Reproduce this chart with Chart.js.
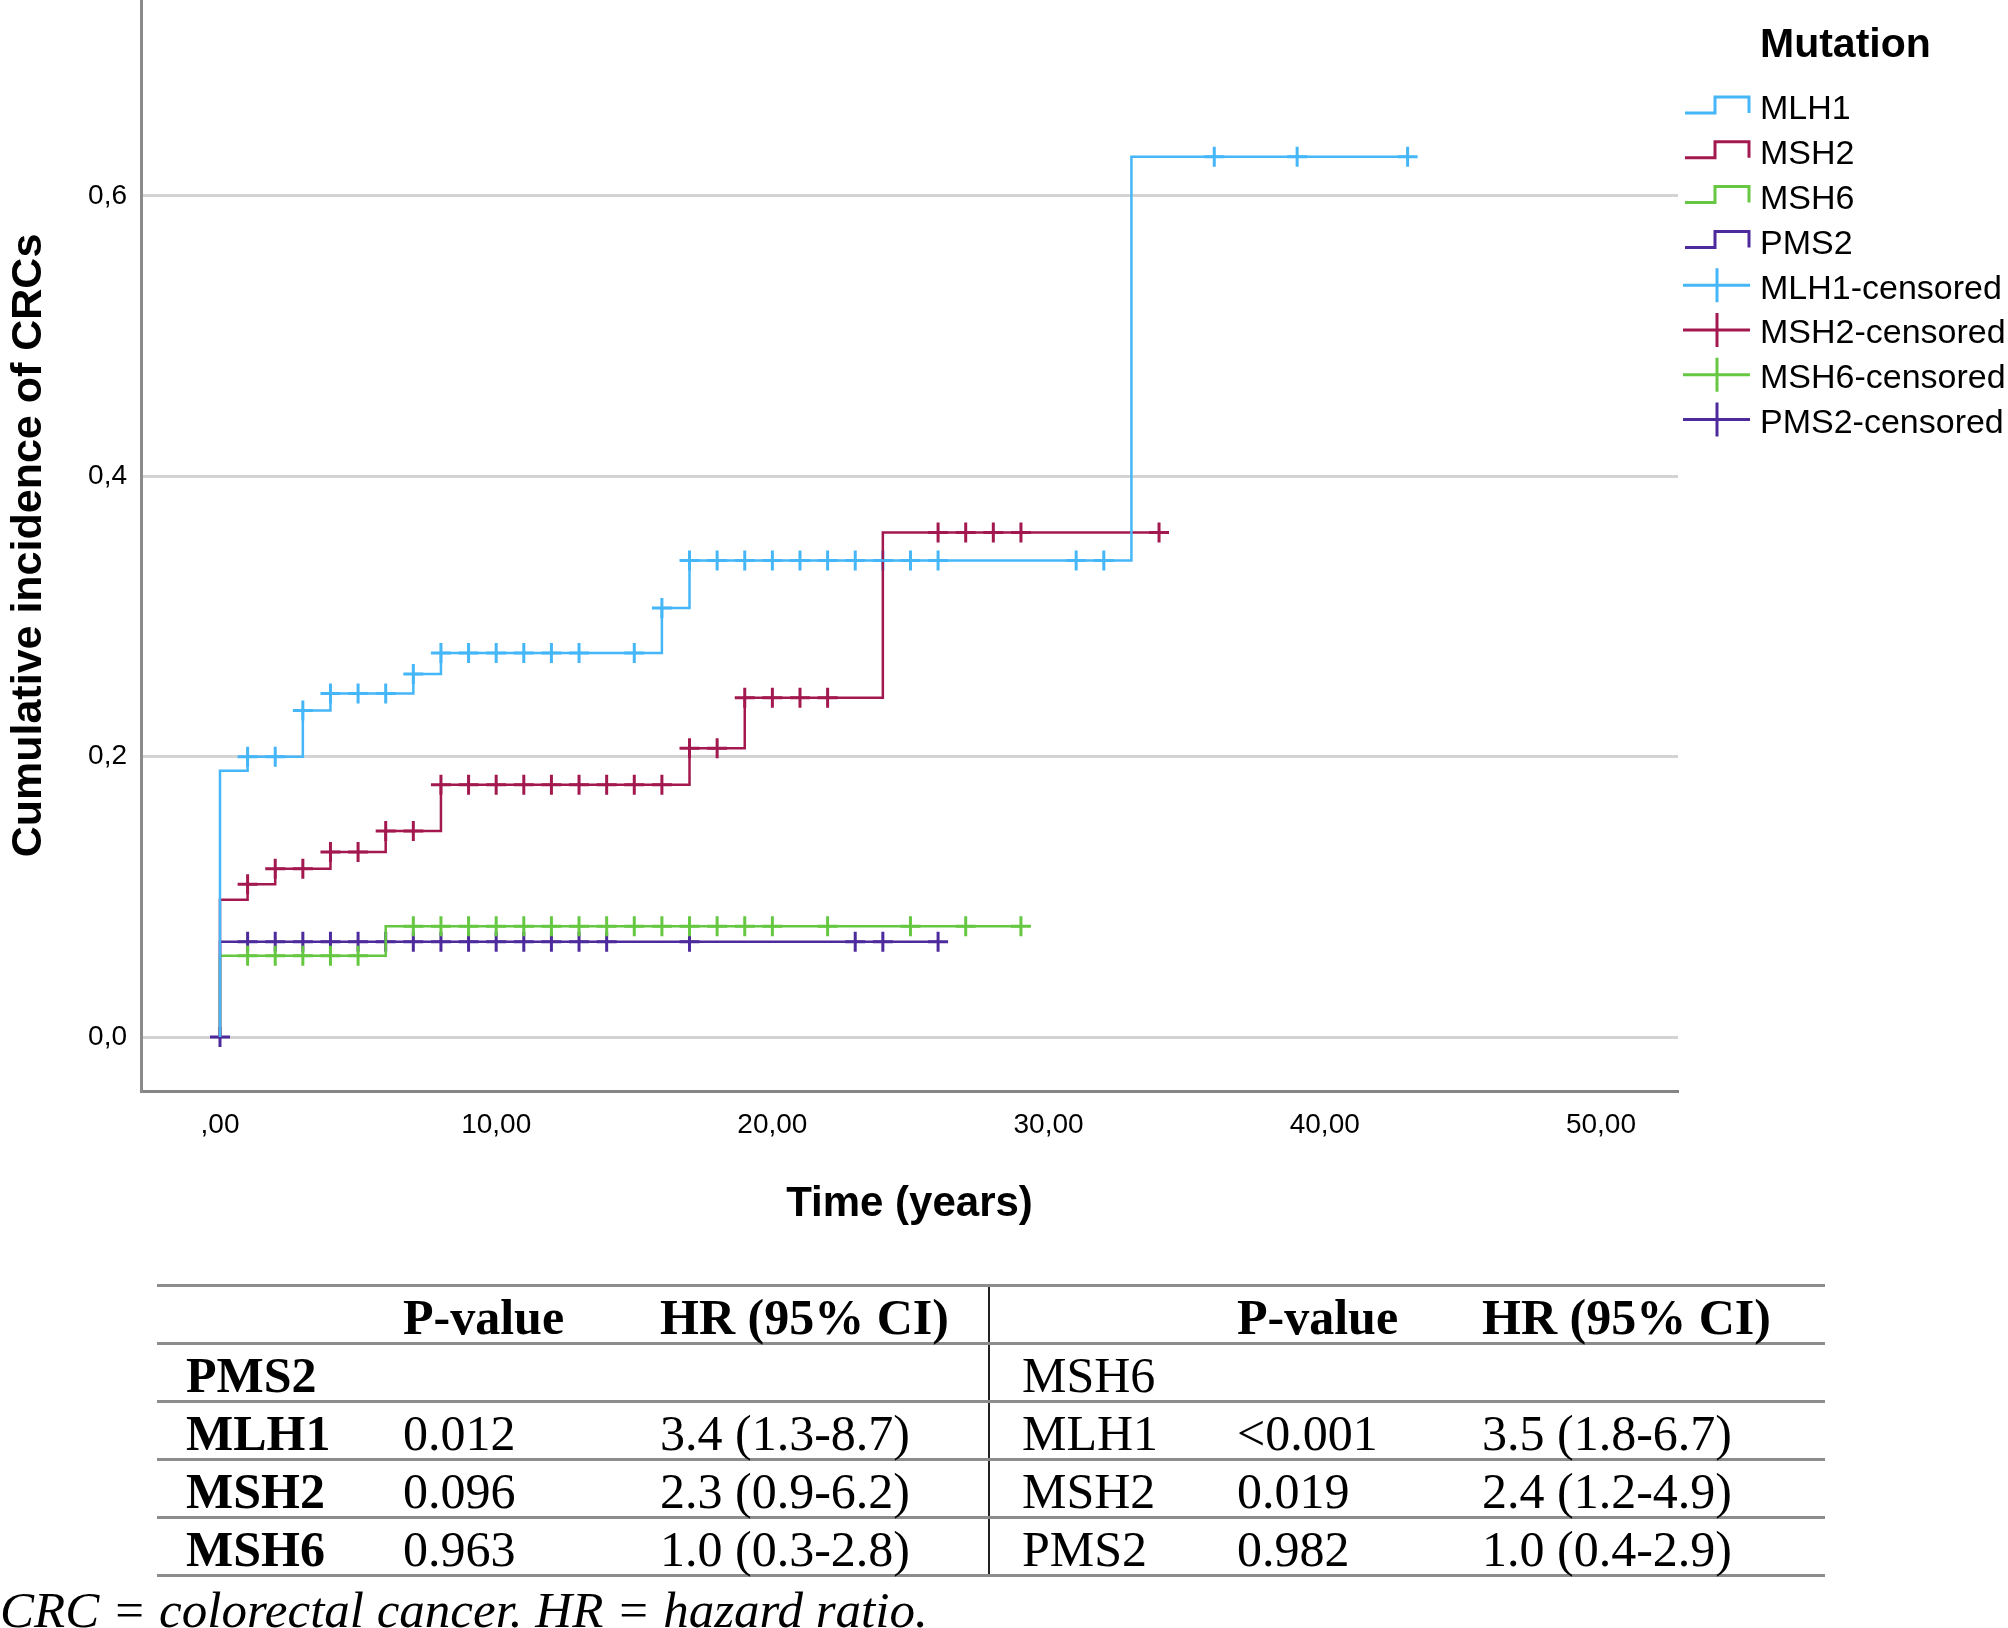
<!DOCTYPE html>
<html>
<head>
<meta charset="utf-8">
<script src="https://cdn.jsdelivr.net/npm/chart.js@4.4.1/dist/chart.umd.min.js"></script>
<style>
html, body { margin: 0; padding: 0; background: #fff; }
body { width: 2008px; height: 1628px; position: relative; overflow: hidden; }
#wrap { position: absolute; left: 0; top: 0; width: 2008px; height: 1250px; }
#hr {
    position: absolute; left: 157px; top: 1284px; width: 1668px;
    border-collapse: collapse; table-layout: fixed;
    font-family: "Liberation Serif", "Times New Roman", serif; font-size: 50px; color: #000;
    border-top: 3px solid #8c8c8c;
}
#hr tr { height: 58px; border-bottom: 3px solid #8c8c8c; }
#hr td, #hr th { padding: 4px 0 0 0; text-align: left; vertical-align: middle; white-space: nowrap; line-height: 50px; }
#hr th { font-weight: bold; }
#hr .c1 { padding-left: 29px; font-weight: bold; }
#hr .c4 { padding-left: 32px; border-left: 2px solid #222; }
#note {
    position: absolute; left: 0; top: 1581px;
    font-family: "Liberation Serif", "Times New Roman", serif; font-style: italic;
    font-size: 51px; line-height: 58px; color: #000; white-space: nowrap;
}
</style>
</head>
<body>
<div id="wrap"><canvas id="kmCanvas" width="2008" height="1250"></canvas></div>
<table id="hr"></table>
<div id="note">CRC = colorectal cancer. HR = hazard ratio.</div>
<script>
// cumulative incidence steps (time in years, value after the step)
const mlh1Times = [0, 0, 1, 3, 4, 7, 8, 16, 17, 33, 43];
const mlh1Cum = [0, 0.190, 0.200, 0.233, 0.245, 0.259, 0.274, 0.306, 0.340, 0.628, 0.628];
const msh2Times = [0, 0, 1, 2, 4, 6, 8, 17, 19, 24, 34];
const msh2Cum = [0, 0.098, 0.109, 0.120, 0.132, 0.147, 0.180, 0.206, 0.242, 0.360, 0.360];
const msh6Times = [0, 0, 6, 29];
const msh6Cum = [0, 0.058, 0.079, 0.079];
const pms2Times = [0, 0, 26];
const pms2Cum = [0, 0.068, 0.068];

// censoring times
const mlh1Censored = [1, 2, 3, 4, 5, 6, 7, 8, 9, 10, 11, 12, 13, 15, 16, 17, 18, 19, 20, 21, 22, 23, 24, 25, 26, 31, 32, 36, 39, 43];
const msh2Censored = [1, 2, 3, 4, 5, 6, 7, 8, 9, 10, 11, 12, 13, 14, 15, 16, 17, 18, 19, 20, 21, 22, 26, 27, 28, 29, 34];
const msh6Censored = [1, 2, 3, 4, 5, 7, 8, 9, 10, 11, 12, 13, 14, 15, 16, 17, 18, 19, 20, 22, 25, 27, 29];
const pms2Censored = [0, 1, 2, 3, 4, 5, 6, 7, 8, 9, 10, 11, 12, 13, 14, 17, 23, 24, 26];

const mutations = ["MLH1", "MSH2", "MSH6", "PMS2"];
const colors = ["#45b6f7", "#a3194f", "#66c842", "#4d2b9c"];
const xTicks = [0, 10, 20, 30, 40, 50];
const yTicks = [0, 0.2, 0.4, 0.6];

// hazard ratio table
const leftRef = "PMS2";
const leftRows = ["MLH1", "MSH2", "MSH6"];
const leftP = ["0.012", "0.096", "0.963"];
const leftHR = ["3.4 (1.3-8.7)", "2.3 (0.9-6.2)", "1.0 (0.3-2.8)"];
const rightRef = "MSH6";
const rightRows = ["MLH1", "MSH2", "PMS2"];
const rightP = ["<0.001", "0.019", "0.982"];
const rightHR = ["3.5 (1.8-6.7)", "2.4 (1.2-4.9)", "1.0 (0.4-2.9)"];

const curves = [
    [mlh1Times, mlh1Cum, mlh1Censored],
    [msh2Times, msh2Cum, msh2Censored],
    [msh6Times, msh6Cum, msh6Censored],
    [pms2Times, pms2Cum, pms2Censored]
];

function levelAt(times, cum, t) {
    if (t <= 0) return 0;
    let v = 0;
    for (let i = 0; i < times.length; i++) {
        if (times[i] <= t) v = cum[i];
    }
    return v;
}

let datasets = [];
curves.forEach((c, i) => {
    datasets.push({
        label: mutations[i],
        data: c[0].map((t, k) => ({x: t, y: c[1][k]})),
        borderColor: colors[i],
        borderWidth: 2.5,
        stepped: true,
        pointRadius: 0,
        fill: false
    });
});
curves.forEach((c, i) => {
    datasets.push({
        label: mutations[i] + "-censored",
        data: c[2].map(t => ({x: t, y: levelAt(c[0], c[1], t)})),
        showLine: false,
        pointStyle: "cross",
        pointRadius: 10,
        pointBorderWidth: 3,
        pointBorderColor: colors[i],
        borderColor: colors[i],
        pointHoverRadius: 10
    });
});

// legend drawn next to the plot, SPSS style
const sideLegend = {
    id: "sideLegend",
    afterDraw(chart) {
        const ctx = chart.ctx;
        const x0 = chart.chartArea.right;
        ctx.save();
        ctx.fillStyle = "#000";
        ctx.textBaseline = "middle";
        ctx.textAlign = "left";
        ctx.font = "bold 41px 'Liberation Sans', Arial, sans-serif";
        ctx.fillText("Mutation", x0 + 82, 46);
        ctx.font = "34px 'Liberation Sans', Arial, sans-serif";
        chart.data.datasets.forEach((ds, i) => {
            const cy = 110 + i * 44.8;
            ctx.strokeStyle = ds.borderColor;
            ctx.lineWidth = 3;
            ctx.beginPath();
            if (ds.showLine === false) {
                ctx.moveTo(x0 + 5, cy - 4);
                ctx.lineTo(x0 + 72, cy - 4);
                ctx.moveTo(x0 + 39, cy - 21);
                ctx.lineTo(x0 + 39, cy + 13);
            } else {
                ctx.moveTo(x0 + 7, cy + 3);
                ctx.lineTo(x0 + 37, cy + 3);
                ctx.lineTo(x0 + 37, cy - 13);
                ctx.lineTo(x0 + 71, cy - 13);
                ctx.lineTo(x0 + 71, cy + 3);
            }
            ctx.stroke();
            ctx.fillText(ds.label, x0 + 82, cy);
        });
        ctx.restore();
    }
};

Chart.defaults.font.family = "'Liberation Sans', Arial, sans-serif";
Chart.defaults.color = "#000";

const kmChart = new Chart(document.getElementById("kmCanvas"), {
    type: "line",
    data: {datasets: datasets},
    options: {
        responsive: false,
        animation: false,
        devicePixelRatio: 1,
        layout: {autoPadding: false, padding: {left: 0, right: 330, top: 0, bottom: 0}},
        plugins: {legend: {display: false}, tooltip: {enabled: false}},
        scales: {
            x: {
                type: "linear",
                min: -2.86,
                max: 52.79,
                afterBuildTicks: (scale) => { scale.ticks = xTicks.map(v => ({value: v})); },
                afterFit: (scale) => {
                    scale.height = 159;
                    scale.paddingLeft = 0;
                    scale.paddingRight = 0;
                },
                ticks: {
                    autoSkip: false,
                    maxRotation: 0,
                    padding: 17,
                    font: {size: 28},
                    callback: (v) => v === 0 ? ",00" : v.toFixed(2).replace(".", ",")
                },
                grid: {display: false, drawTicks: false},
                border: {display: true, color: "#858585", width: 3},
                title: {
                    display: true,
                    text: "Time (years)",
                    font: {size: 42, weight: "bold"},
                    padding: {top: 0, bottom: 20}
                }
            },
            y: {
                type: "linear",
                min: -0.0385,
                max: 0.7398,
                afterBuildTicks: (scale) => { scale.ticks = yTicks.map(v => ({value: v})); },
                afterFit: (scale) => {
                    scale.width = 141;
                    scale.paddingTop = 0;
                    scale.paddingBottom = 0;
                },
                ticks: {
                    padding: 14,
                    font: {size: 28},
                    callback: (v) => v.toFixed(1).replace(".", ",")
                },
                grid: {color: "#d3d3d3", lineWidth: 3, drawTicks: false},
                border: {display: true, color: "#8a8a8a", width: 3},
                title: {
                    display: true,
                    text: "Cumulative incidence of CRCs",
                    font: {size: 43, weight: "bold"},
                    padding: {top: 3, bottom: 0}
                }
            }
        }
    },
    plugins: [sideLegend]
});

// build the hazard ratio table
function row(cells, head) {
    const tag = head ? "th" : "td";
    return "<tr>" + cells.map((c, k) => "<" + tag + " class=\"c" + (k + 1) + "\">" +
        c.replace("<", "&lt;") + "</" + tag + ">").join("") + "</tr>";
}
let html = "<colgroup><col style=\"width:246px\"><col style=\"width:257px\"><col style=\"width:329px\">" +
    "<col style=\"width:248px\"><col style=\"width:245px\"><col style=\"width:343px\"></colgroup>";
html += row(["", "P-value", "HR (95% CI)", "", "P-value", "HR (95% CI)"], true);
html += row([leftRef, "", "", rightRef, "", ""], false);
for (let i = 0; i < leftRows.length; i++) {
    html += row([leftRows[i], leftP[i], leftHR[i], rightRows[i], rightP[i], rightHR[i]], false);
}
document.getElementById("hr").innerHTML = html;
</script>
</body>
</html>
